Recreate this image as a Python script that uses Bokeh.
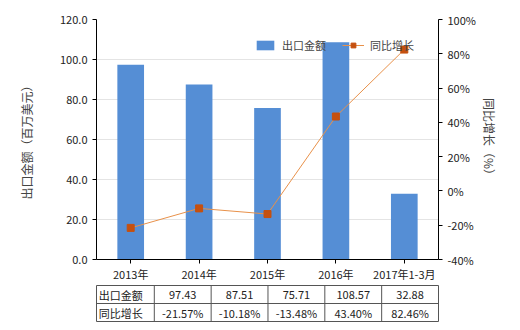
from bokeh.plotting import figure
from bokeh.models import Range1d, LinearAxis, FactorRange, Legend, LegendItem, NumeralTickFormatter, PrintfTickFormatter, ColumnDataSource, FixedTicker
from bokeh.layouts import column
from bokeh.core.properties import value
from bokeh.embed import file_html
from bokeh.resources import INLINE

categories = ["2013年", "2014年", "2015年", "2016年", "2017年1-3月"]
export_values = [97.43, 87.51, 75.71, 108.57, 32.88]
growth_pct = [-21.57, -10.18, -13.48, 43.40, 82.46]
export_labels = ["97.43", "87.51", "75.71", "108.57", "32.88"]
growth_labels = ["-21.57%", "-10.18%", "-13.48%", "43.40%", "82.46%"]
row_names = ["出口金额", "同比增长"]

FONT = "Noto Sans CJK SC"
BAR = "#558ED5"
LINE = "#E8914A"
MARK = "#C5500F"

p = figure(x_range=FactorRange(*categories), y_range=Range1d(0, 120),
           width=520, height=285, output_backend="svg", toolbar_location=None,
           min_border_left=96, min_border_right=80, min_border_top=19, min_border_bottom=26)
p.extra_y_ranges = {"pct": Range1d(-40, 100)}
p.outline_line_color = None
p.background_fill_color = "white"

src = ColumnDataSource(dict(cat=categories, val=export_values, g=growth_pct))
bars = p.vbar(x="cat", top="val", width=0.39, source=src, color=BAR, line_color=None)
ln = p.line(x="cat", y="g", source=src, y_range_name="pct", line_color=LINE, line_width=1)
mk = p.scatter(x="cat", y="g", source=src, y_range_name="pct", marker="square", size=7,
               fill_color=MARK, line_color=MARK)

# left axis
ya = p.yaxis[0]
ya.ticker = FixedTicker(ticks=[0, 20, 40, 60, 80, 100, 120])
ya.formatter = NumeralTickFormatter(format="0.0")
ya.axis_label = "出口金额（百万美元）"
ya.axis_label_text_font = FONT
ya.axis_label_text_font_style = "normal"
ya.axis_label_text_font_size = "12px"
ya.axis_label_standoff = 22
ya.major_label_text_font = FONT
ya.major_label_text_font_size = "11px"
ya.major_label_text_color = "#222222"
ya.axis_line_color = "black"
ya.major_tick_line_color = "black"
ya.major_tick_out = 4
ya.major_tick_in = 0
ya.minor_tick_line_color = None

ra = LinearAxis(y_range_name="pct", ticker=FixedTicker(ticks=[-40, -20, 0, 20, 40, 60, 80, 100]))
ra.formatter = PrintfTickFormatter(format="%d%%")
ra.axis_label = "同比增长（%）"
ra.axis_label_text_font = FONT
ra.axis_label_text_font_style = "normal"
ra.axis_label_text_font_size = "12px"
ra.axis_label_standoff = 2
ra.major_label_text_font = FONT
ra.major_label_text_font_size = "11px"
ra.major_label_text_color = "#222222"
ra.axis_line_color = "black"
ra.major_tick_line_color = "black"
ra.major_tick_out = 4
ra.major_tick_in = 0
ra.minor_tick_line_color = None
p.add_layout(ra, "right")

xa = p.xaxis[0]
xa.major_label_text_font = FONT
xa.major_label_text_font_size = "11px"
xa.major_label_text_color = "#222222"
xa.axis_line_color = "black"
xa.major_tick_line_color = "black"
xa.major_tick_out = 4
xa.major_tick_in = 0
xa.major_label_standoff = 2

p.xgrid.grid_line_color = None
p.ygrid.grid_line_color = "#e4e4e4"
p.ygrid.ticker = FixedTicker(ticks=[20, 40, 60, 80, 100, 120])

legend = Legend(items=[LegendItem(label="出口金额", renderers=[bars]),
                       LegendItem(label="同比增长", renderers=[ln, mk])],
                orientation="horizontal", location=(158, 206),
                border_line_color=None, background_fill_alpha=0,
                label_text_font=FONT, label_text_font_size="11px",
                glyph_width=22, glyph_height=12, spacing=16, padding=2, margin=0,
                label_standoff=6)
p.add_layout(legend, "center")

# table
n = len(categories)
hdr = 1.017
t = figure(x_range=Range1d(-hdr, n), y_range=Range1d(0, 2), width=520, height=45,
           output_backend="svg", toolbar_location=None,
           x_axis_location=None, y_axis_location=None,
           min_border_left=26, min_border_right=82, min_border_top=0, min_border_bottom=9)
t.grid.visible = False
t.outline_line_color = "#555555"
t.outline_line_width = 1
vx = [0] + list(range(1, n))
t.segment(x0=vx, y0=[0] * len(vx), x1=vx, y1=[2] * len(vx), line_color="#555555", line_width=1)
t.segment(x0=[-hdr], y0=[1], x1=[n], y1=[1], line_color="#555555", line_width=1)
xs = [i + 0.5 for i in range(n)]
t.text(x=xs, y=[1.5] * n, text=export_labels, text_align="center", text_baseline="middle",
       text_font=value(FONT), text_font_size="11px", text_color="#222222")
t.text(x=xs, y=[0.5] * n, text=growth_labels, text_align="center", text_baseline="middle",
       text_font=value(FONT), text_font_size="11px", text_color="#222222")
t.text(x=[-hdr + 0.04] * 2, y=[1.5, 0.5], text=row_names, text_align="left", text_baseline="middle",
       text_font=value(FONT), text_font_size="11px", text_color="#222222")

layout = column(p, t, spacing=0)
open("out.html", "w").write(file_html(layout, INLINE))
